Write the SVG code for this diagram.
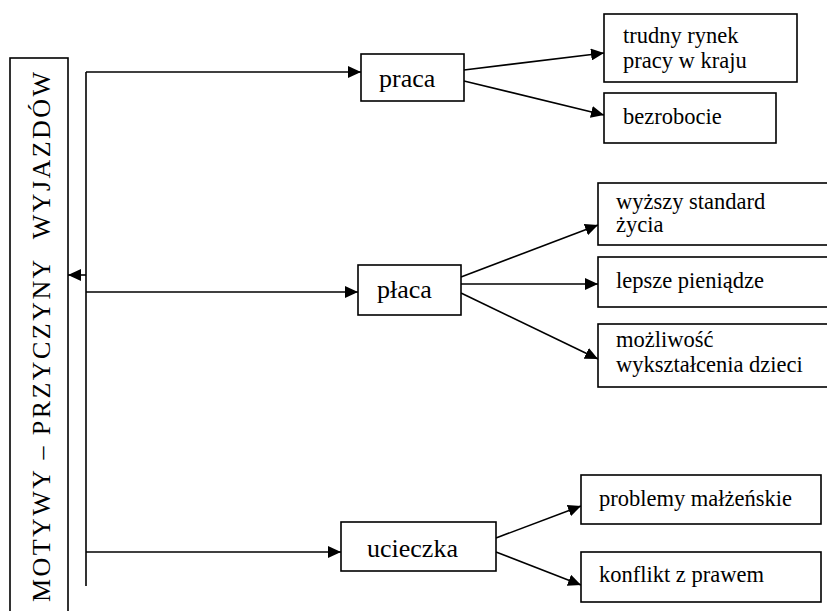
<svg xmlns="http://www.w3.org/2000/svg" width="827" height="611" viewBox="0 0 827 611">
<style>
  .box { fill: #fff; stroke: #000; stroke-width: 1.6; }
  text { font-family: 'Liberation Serif', 'DejaVu Serif', serif; fill: #000; }
  .main { font-size: 26px; }
  .leaf { font-size: 22.5px; }
  .title { font-size: 26px; }
  .conn path { fill: none; stroke: #000; stroke-width: 1.6; }
</style>
<defs>
  <marker id="arr" markerUnits="userSpaceOnUse" markerWidth="14" markerHeight="12" refX="13" refY="6" orient="auto">
    <path d="M0,0 L13,6 L0,12 z" fill="#000"/>
  </marker>
</defs>
<rect width="827" height="611" fill="#fff"/>

<g id="node-title">
  <rect class="box" x="10" y="58" width="58" height="570"/>
  <text class="title" x="50" y="602" textLength="530" lengthAdjust="spacing" transform="rotate(-90 50 602)">MOTYWY – PRZYCZYNY&#160;&#160;WYJAZDÓW</text>
</g>

<g class="conn" id="connectors">
  <path d="M86,72 V586"/>
  <path d="M86,72 H361" marker-end="url(#arr)"/>
  <path d="M86,275 H68" marker-end="url(#arr)"/>
  <path d="M86,292 H358" marker-end="url(#arr)"/>
  <path d="M86,552 H341" marker-end="url(#arr)"/>
  <path d="M464,70 L604,53" marker-end="url(#arr)"/>
  <path d="M464,81 L604,115" marker-end="url(#arr)"/>
  <path d="M461,277 L598,225" marker-end="url(#arr)"/>
  <path d="M461,284 H598" marker-end="url(#arr)"/>
  <path d="M461,293 L598,359" marker-end="url(#arr)"/>
  <path d="M496,538 L581,506" marker-end="url(#arr)"/>
  <path d="M496,552 L581,585" marker-end="url(#arr)"/>
</g>

<g id="node-praca">
  <rect class="box" x="361" y="54" width="103" height="47"/>
  <text class="main" x="379" y="87">praca</text>
</g>
<g id="node-placa">
  <rect class="box" x="358" y="265" width="103" height="50"/>
  <text class="main" x="377" y="298">płaca</text>
</g>
<g id="node-ucieczka">
  <rect class="box" x="341" y="522" width="155" height="49"/>
  <text class="main" x="367" y="557">ucieczka</text>
</g>

<g id="node-trudny">
  <rect class="box" x="604" y="14" width="193" height="68"/>
  <text class="leaf" x="623" y="43">trudny rynek</text>
  <text class="leaf" x="623" y="68">pracy w kraju</text>
</g>
<g id="node-bezrobocie">
  <rect class="box" x="604" y="93" width="172" height="50"/>
  <text class="leaf" x="623" y="124">bezrobocie</text>
</g>
<g id="node-wyzszy">
  <rect class="box" x="598" y="183" width="240" height="62"/>
  <text class="leaf" x="616" y="209">wyższy standard</text>
  <text class="leaf" x="616" y="232">życia</text>
</g>
<g id="node-lepsze">
  <rect class="box" x="598" y="257" width="240" height="50"/>
  <text class="leaf" x="616" y="288">lepsze pieniądze</text>
</g>
<g id="node-mozliwosc">
  <rect class="box" x="598" y="324" width="240" height="63"/>
  <text class="leaf" x="616" y="347">możliwość</text>
  <text class="leaf" x="616" y="372">wykształcenia dzieci</text>
</g>
<g id="node-problemy">
  <rect class="box" x="581" y="475" width="240" height="49"/>
  <text class="leaf" x="599" y="506">problemy małżeńskie</text>
</g>
<g id="node-konflikt">
  <rect class="box" x="581" y="552" width="240" height="50"/>
  <text class="leaf" x="599" y="582">konflikt z prawem</text>
</g>
</svg>
